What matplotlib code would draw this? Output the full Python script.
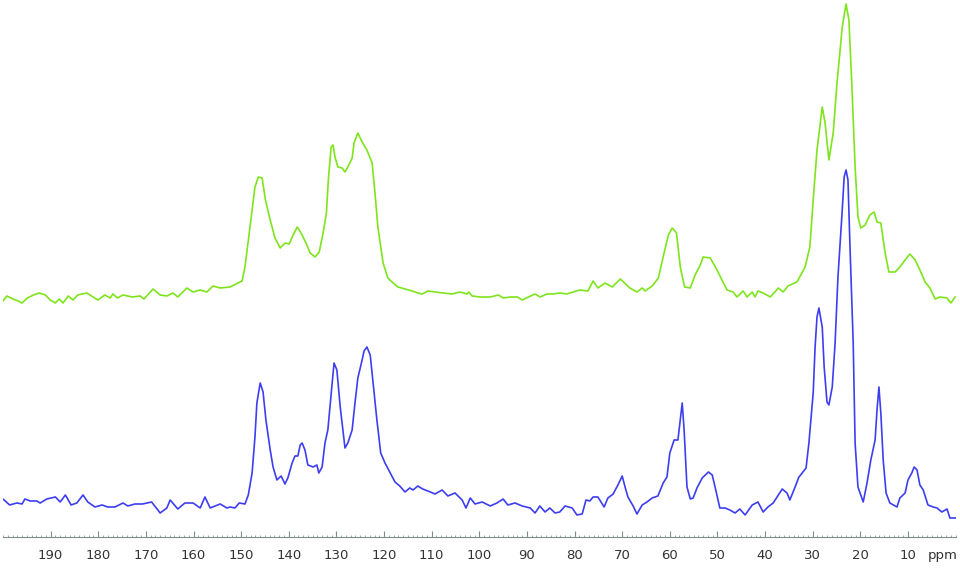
import matplotlib
import matplotlib.pyplot as plt
import numpy as np

matplotlib.use('Agg')

# upper trace (green), chemical shift in ppm and intensity (a.u.)
green_ppm = [200.0, 199.2, 197.9, 196.8, 196.0, 194.9, 193.6, 192.4, 191.1, 190.1,
             189.0, 188.2, 187.4, 186.3, 185.3, 184.3, 182.4, 181.1, 180.1, 178.6,
             177.5, 176.9, 176.0, 174.8, 172.9, 171.2, 170.4, 168.5, 167.0, 165.6,
             164.3, 163.3, 161.4, 160.1, 158.6, 157.2, 155.9, 154.4, 152.3, 150.7,
             149.8, 149.2, 148.5, 147.7, 147.1, 146.4, 145.6, 144.9, 143.9, 142.9,
             141.8, 140.8, 139.9, 139.1, 138.2, 137.2, 136.4, 135.5, 134.5, 133.6,
             132.8, 132.1, 131.7, 131.1, 130.7, 130.3, 129.7, 128.8, 128.2, 127.6,
             126.7, 126.3, 125.5, 124.6, 123.6, 122.5, 121.9, 121.3, 120.2, 119.2,
             118.1, 117.1, 115.6, 114.1, 112.9, 112.0, 110.8, 109.3, 107.6, 105.7,
             104.1, 102.6, 102.2, 101.5, 99.8, 97.7, 96.0, 95.0, 93.5, 92.0,
             91.0, 89.7, 88.3, 87.2, 85.8, 84.5, 83.1, 81.6, 81.0, 78.9,
             77.2, 76.1, 75.1, 73.6, 72.1, 70.4, 68.4, 66.9, 65.8, 65.2,
             63.7, 62.4, 61.4, 60.3, 59.5, 58.6, 57.8, 56.9, 55.7, 54.7,
             53.6, 53.0, 51.5, 50.1, 48.0, 46.7, 45.9, 44.6, 43.8, 42.7,
             42.1, 41.5, 40.4, 38.9, 37.2, 36.2, 35.2, 33.3, 31.6, 30.6,
             29.9, 29.1, 28.0, 27.4, 26.6, 25.7, 24.9, 23.8, 23.0, 22.4,
             21.8, 21.1, 20.5, 19.9, 19.0, 18.0, 17.1, 16.5, 15.7, 14.8,
             14.0, 12.7, 11.7, 10.6, 9.6, 8.5, 7.5, 6.4, 5.4, 4.3,
             3.3, 1.8, 1.0, 0.1]
green_int = [-7, -2, -5, -7, -9, -4, -1, 1, -1, -6,
             -9, -5, -9, -2, -6, -1, 1, -3, -6, -1,
             -4, 0, -4, -1, -3, -2, -5, 5, -1, -2,
             1, -3, 6, 2, 4, 2, 8, 6, 7, 11,
             13, 27, 54, 84, 107, 117, 116, 94, 74, 56,
             46, 51, 50, 59, 67, 59, 51, 41, 37, 42,
             61, 81, 114, 147, 149, 137, 127, 126, 122, 127,
             136, 151, 161, 152, 144, 131, 101, 67, 31, 16,
             11, 7, 5, 3, 1, 0, 3, 2, 1, 0,
             2, 0, 2, -2, -3, -3, -1, -4, -3, -3,
             -6, -3, 0, -3, 0, 0, 1, 0, 1, 4,
             3, 13, 6, 11, 7, 15, 6, 2, 6, 3,
             8, 16, 37, 59, 66, 61, 27, 7, 6, 19,
             29, 37, 36, 24, 4, 2, -3, 3, -3, 2,
             -3, 3, 1, -3, 6, 2, 8, 12, 27, 47,
             94, 144, 187, 171, 134, 161, 211, 267, 290, 274,
             211, 127, 77, 66, 69, 79, 82, 72, 71, 41,
             22, 22, 27, 34, 40, 34, 24, 12, 6, -5,
             -3, -4, -9, -3]

# lower trace (blue)
blue_ppm = [200.0, 198.6, 197.1, 196.0, 195.4, 194.3, 192.9, 192.2, 190.8, 189.0,
            188.0, 186.9, 185.7, 184.5, 183.2, 182.2, 180.7, 179.2, 178.0, 176.5,
            174.8, 173.8, 172.3, 170.7, 168.8, 167.0, 165.6, 164.9, 163.3, 161.8,
            160.1, 158.6, 157.6, 156.5, 154.4, 153.0, 152.3, 151.3, 150.4, 149.2,
            148.5, 147.7, 147.1, 146.7, 146.0, 145.4, 144.8, 143.9, 143.3, 142.5,
            141.6, 140.8, 140.2, 139.3, 138.7, 138.1, 137.6, 137.2, 136.6, 136.0,
            134.9, 134.1, 133.7, 133.0, 132.4, 131.8, 130.9, 130.5, 129.9, 129.2,
            128.2, 127.6, 126.7, 126.1, 125.5, 124.6, 124.2, 123.6, 122.9, 122.3,
            121.5, 120.7, 119.8, 118.7, 117.7, 116.7, 115.6, 114.6, 113.9, 112.9,
            111.9, 110.8, 109.3, 107.8, 106.6, 105.1, 103.6, 102.8, 101.9, 100.9,
            99.4, 97.7, 96.3, 95.0, 94.0, 92.5, 91.0, 89.3, 88.3, 87.3,
            86.2, 85.2, 84.1, 83.1, 82.0, 80.5, 79.5, 78.4, 77.6, 76.8,
            76.1, 75.1, 73.8, 73.0, 71.9, 70.9, 70.0, 69.4, 68.8, 67.7,
            66.9, 65.8, 64.8, 63.7, 62.5, 61.4, 60.6, 60.0, 59.1, 58.3,
            57.4, 57.0, 56.4, 55.7, 55.1, 54.3, 53.2, 51.9, 51.1, 50.5,
            49.5, 48.4, 47.4, 46.3, 45.3, 44.2, 42.7, 41.5, 40.4, 39.4,
            38.3, 36.4, 35.4, 34.8, 33.7, 32.9, 32.7, 31.4, 30.8, 29.9,
            29.5, 29.1, 28.7, 28.0, 27.6, 27.0, 26.6, 25.9, 25.3, 24.7,
            23.8, 23.4, 23.0, 22.6, 22.2, 21.5, 21.1, 20.5, 19.4, 18.6,
            17.8, 16.9, 16.5, 16.1, 15.7, 15.2, 14.6, 13.8, 12.3, 11.7,
            10.6, 10.0, 9.2, 8.7, 8.1, 7.5, 6.8, 5.8, 4.7, 3.9,
            2.9, 1.8, 1.2, 0.1]
blue_int = [6, 0, 2, 1, 6, 4, 4, 2, 6, 8,
            3, 10, 0, 2, 10, 3, -2, 0, -2, -2,
            2, -1, 1, 1, 3, -8, -3, 5, -4, 2,
            2, -3, 8, -3, 1, -3, -2, -3, 2, 1,
            10, 32, 68, 102, 122, 113, 85, 55, 38, 25,
            29, 21, 27, 42, 49, 49, 60, 62, 55, 40,
            38, 40, 32, 38, 62, 75, 122, 142, 135, 98,
            57, 62, 75, 102, 127, 145, 154, 158, 150, 122,
            85, 52, 42, 32, 23, 19, 13, 17, 15, 19,
            16, 14, 11, 15, 9, 12, 5, -3, 7, 1,
            3, -1, 2, 6, 0, 2, -1, -3, -8, -1,
            -7, -3, -8, -7, -1, -3, -10, -9, 5, 4,
            8, 8, -2, 7, 11, 20, 29, 18, 8, -1,
            -9, 0, 3, 7, 9, 22, 28, 52, 65, 65,
            102, 75, 18, 6, 7, 17, 27, 33, 30, 18,
            -3, -3, -5, -8, -4, -10, 0, 3, -7, -2,
            2, 16, 12, 5, 18, 28, 29, 37, 62, 112,
            158, 188, 197, 178, 138, 103, 100, 118, 162, 228,
            295, 328, 335, 325, 262, 162, 62, 18, 3, 22,
            45, 65, 95, 118, 92, 45, 12, 2, -2, 7,
            12, 25, 32, 38, 35, 20, 15, 0, -2, -3,
            -7, -4, -13, -13]

green_offset = 211

fig = plt.figure(figsize=(9.6, 5.68), dpi=100)
ax = fig.add_axes([0.003125, 0.0546, 0.9923, 0.9454])

ax.plot(blue_ppm, blue_int, color='#3d3df2', lw=1.2)
ax.plot(green_ppm, np.array(green_int) + green_offset, color='#7ee41c', lw=1.2)

ax.set_xlim(200, 0)
ax.set_ylim(-32, 505)

for s in ['top', 'left', 'right']:
    ax.spines[s].set_visible(False)
ax.spines['bottom'].set_color('#7d8b8b')
ax.spines['bottom'].set_linewidth(0.8)
ax.set_yticks([])

ax.set_xticks(np.arange(10, 200, 10))
ax.set_xticks(np.arange(0, 201, 1), minor=True)
ax.tick_params(axis='x', which='major', direction='in', length=4, width=0.8,
               color='#7d8b8b', labelsize=9.5, labelcolor='#333333', pad=9)
ax.tick_params(axis='x', which='minor', direction='in', length=1.6, width=0.6,
               color='#8c9999')

ax.text(2.8, -0.034, 'ppm', transform=ax.get_xaxis_transform(),
        ha='center', va='center', fontsize=9.5, color='#333333')

fig.savefig('out.png', dpi=100)
